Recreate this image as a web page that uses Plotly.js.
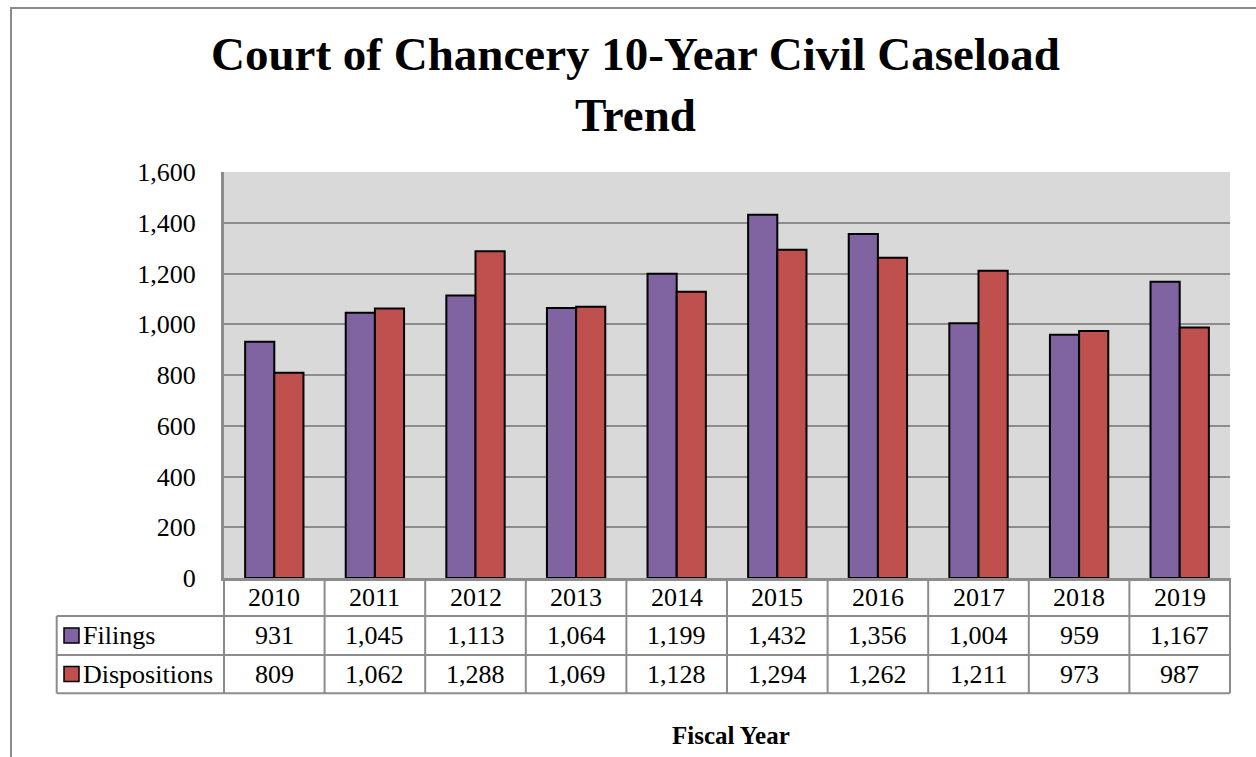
<!DOCTYPE html>
<html>
<head>
<meta charset="utf-8">
<script src="https://cdn.plot.ly/plotly-3.0.1.min.js"></script>
<style>html,body{margin:0;padding:0;background:#fff;}#chart{width:1256px;height:757px;}</style>
</head>
<body>
<div id="chart"></div>
<script>
// ---- data ----
const years = ['2010','2011','2012','2013','2014','2015','2016','2017','2018','2019'];
const filings = [931, 1045, 1113, 1064, 1199, 1432, 1356, 1004, 959, 1167];
const dispositions = [809, 1062, 1288, 1069, 1128, 1294, 1262, 1211, 973, 987];
const seriesNames = ['Filings', 'Dispositions'];
const seriesColors = ['#8064A2', '#C0504D'];
const chartTitle = 'Court of Chancery 10-Year Civil Caseload<br>Trend';
const xTitle = 'Fiscal Year';

// ---- layout helpers (pixel geometry -> paper) ----
const W = 1256, H = 757;
const M = {l: 224, r: 26, t: 172, b: 179};
const plotW = W - M.l - M.r, plotH = H - M.t - M.b;
const px2x = px => (px - M.l) / plotW;
const py2y = py => (H - M.b - py) / plotH;
const FONT = 'Liberation Serif, Times New Roman, serif';
const gridGray = '#8c8c8c';

const rowBounds = [py2y(H - M.b), py2y(616), py2y(655), py2y(693.3)];
const rowCenters = [py2y(597), py2y(635.5), py2y(674)];
const leftCol = px2x(56.7);

const traces = [filings, dispositions].map((vals, i) => ({
  type: 'bar', x: years, y: vals, name: seriesNames[i],
  marker: {color: seriesColors[i], line: {color: '#000', width: 2}},
  hoverinfo: 'skip'
}));

const shapes = [];
const annotations = [];
const lineStyle = {color: gridGray, width: 2};
// outer frame
shapes.push({type: 'rect', xref: 'paper', yref: 'paper', x0: px2x(11), x1: px2x(W + 20), y0: py2y(H + 20), y1: py2y(8), line: {color: '#8c8c8c', width: 2}, fillcolor: 'rgba(0,0,0,0)', layer: 'below'});
// table horizontal lines
[rowBounds[1], rowBounds[2], rowBounds[3]].forEach(y => shapes.push({type: 'line', xref: 'paper', yref: 'paper', x0: leftCol, x1: 1, y0: y, y1: y, line: lineStyle}));
// table vertical lines at category boundaries
for (let k = 0; k <= years.length; k++) {
  const xx = k / years.length;
  shapes.push({type: 'line', xref: 'paper', yref: 'paper', x0: xx, x1: xx, y0: rowBounds[0], y1: rowBounds[3], line: lineStyle});
}
shapes.push({type: 'line', xref: 'paper', yref: 'paper', x0: leftCol, x1: leftCol, y0: rowBounds[1], y1: rowBounds[3], line: lineStyle});

const cellFont = {family: FONT, size: 26, color: '#000'};
years.forEach((yr, i) => {
  // category axis: annotation x is the category's serial index
  annotations.push({xref: 'x', yref: 'paper', x: i, y: rowCenters[0], text: yr, showarrow: false, font: cellFont, yanchor: 'middle'});
  annotations.push({xref: 'x', yref: 'paper', x: i, y: rowCenters[1], text: filings[i].toLocaleString('en-US'), showarrow: false, font: cellFont, yanchor: 'middle'});
  annotations.push({xref: 'x', yref: 'paper', x: i, y: rowCenters[2], text: dispositions[i].toLocaleString('en-US'), showarrow: false, font: cellFont, yanchor: 'middle'});
});
// legend keys in table
seriesNames.forEach((nm, i) => {
  const cy = rowCenters[i + 1];
  const half = 7.5 / plotH;
  shapes.push({type: 'rect', xref: 'paper', yref: 'paper', x0: px2x(64), x1: px2x(79), y0: cy - half, y1: cy + half, fillcolor: seriesColors[i], line: {color: '#000', width: 1.5}});
  annotations.push({xref: 'paper', yref: 'paper', x: px2x(81), y: cy, text: nm, showarrow: false, font: cellFont, xanchor: 'left', yanchor: 'middle'});
});
// x axis title
annotations.push({xref: 'paper', yref: 'paper', x: px2x(731), y: py2y(735), text: '<b>' + xTitle + '</b>', showarrow: false, font: {family: FONT, size: 25, color: '#000'}, yanchor: 'middle'});

const layout = {
  width: W, height: H,
  margin: M,
  paper_bgcolor: '#fff', plot_bgcolor: '#d9d9d9',
  showlegend: false,
  barmode: 'group', bargap: 0.42, bargroupgap: 0,
  title: {text: '<b>' + chartTitle + '</b>', font: {family: FONT, size: 47, color: '#000'}, x: 635.5 / W, xanchor: 'center', xref: 'container', y: 1 - 69.5 / H, yanchor: 'top', yref: 'container'},
  xaxis: {type: 'category', range: [-0.5, years.length - 0.5], showticklabels: false, ticks: '', showgrid: false, zeroline: false, showline: true, linecolor: gridGray, linewidth: 3, fixedrange: true},
  yaxis: {range: [0, 1600], dtick: 200, tick0: 0, tickformat: ',d', ticks: '', ticklabelstandoff: 20, showgrid: true, gridcolor: gridGray, gridwidth: 2, zeroline: false, showline: true, linecolor: gridGray, linewidth: 3, tickfont: {family: FONT, size: 26, color: '#000'}, fixedrange: true},
  shapes: shapes,
  annotations: annotations,
  hovermode: false
};

Plotly.newPlot('chart', traces, layout, {displayModeBar: false, staticPlot: true});
</script>
</body>
</html>
